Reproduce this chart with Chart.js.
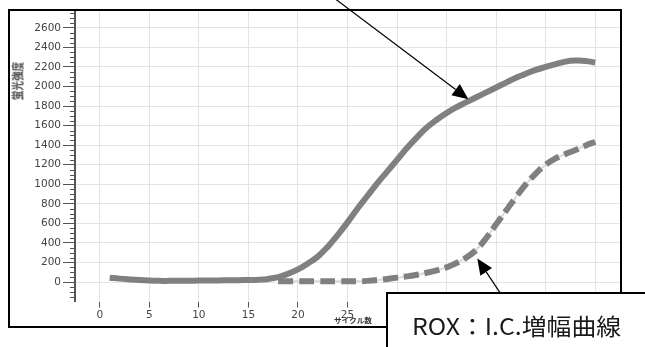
<!DOCTYPE html>
<html>
<head>
<meta charset="utf-8">
<script src="https://cdn.jsdelivr.net/npm/chart.js@4.4.1/dist/chart.umd.min.js"></script>
<style>
  body { margin: 0; background: #fff; overflow: hidden; }
  #wrap { position: relative; width: 645px; height: 347px; }
  #myChart { position: absolute; left: 0; top: 0; }
  .ytitle {
    position: absolute; left: 17px; top: 81px;
    transform: translate(-50%, -50%) rotate(-90deg) scale(0.8, 1);
    font: bold 12px "Noto Sans CJK JP"; color: #444; white-space: nowrap;
  }
  .xtitle {
    position: absolute; left: 353px; top: 320px;
    transform: translate(-50%, -50%) scale(0.85, 0.8);
    font: bold 9px "Noto Sans CJK JP"; color: #333; white-space: nowrap;
  }
  .note {
    position: absolute; left: 386px; top: 292px; width: 300px; height: 100px;
    border: 2px solid #000; background: #fff; box-sizing: border-box;
  }
  .note span {
    position: absolute; left: 24px; top: 14px;
    font: 23px "Noto Sans CJK JP"; color: #1a1a1a; white-space: nowrap;
    transform-origin: left center; transform: scaleX(1.08);
  }
</style>
</head>
<body>
<div id="wrap">
  <canvas id="myChart" width="645" height="347"></canvas>
  <div class="ytitle">蛍光強度</div>
  <div class="xtitle">サイクル数</div>
  <div class="note"><span>ROX：I.C.増幅曲線</span></div>
</div>
<script>
// サイクル数
const cycles = [1, 2, 3, 4, 5, 6, 7, 8, 9, 10, 11, 12, 13, 14, 15, 16, 17, 18, 19, 20,
  21, 22, 23, 24, 25, 26, 27, 28, 29, 30, 31, 32, 33, 34, 35, 36, 37, 38, 39, 40,
  41, 42, 43, 44, 45, 46, 47, 48, 49, 50];
// target curve (solid)
const targetValues = [45, 35, 27, 20, 15, 12, 12, 13, 14, 15, 16, 17, 18, 19, 21, 24, 32, 50, 85, 130,
  190, 260, 360, 480, 610, 750, 880, 1010, 1130, 1250, 1370, 1480, 1580, 1660, 1730, 1790, 1840, 1890, 1940, 1990,
  2040, 2090, 2130, 2170, 2200, 2230, 2255, 2265, 2262, 2245];
// ROX I.C. curve (dashed)
const roxCycles = [18, 19, 20, 21, 22, 23, 24, 25, 26, 27, 28, 29, 30, 31, 32, 33, 34,
  35, 36, 37, 38, 39, 40, 41, 42, 43, 44, 45, 46, 47, 48, 49, 50];
const roxValues = [8, 8, 8, 8, 8, 8, 8, 8, 8, 12, 20, 32, 45, 58, 75, 95, 120,
  150, 195, 250, 330, 450, 590, 730, 870, 1000, 1110, 1200, 1265, 1310, 1350, 1395, 1435];
const yTicks = [0, 200, 400, 600, 800, 1000, 1200, 1400, 1600, 1800, 2000, 2200, 2400, 2600, 2800];
const xTicks = [0, 5, 10, 15, 20, 25, 30, 35, 40, 45, 50];

const toPoints = (xs, ys) => xs.map((x, i) => ({ x, y: ys[i] }));

const arrowTo = (ctx, x1, y1, x2, y2) => {
    const ang = Math.atan2(y2 - y1, x2 - x1);
    const len = 16, half = 7;
    const bx = x2 - len * Math.cos(ang), by = y2 - len * Math.sin(ang);
    ctx.beginPath();
    ctx.moveTo(x1, y1);
    ctx.lineTo(bx, by);
    ctx.stroke();
    ctx.beginPath();
    ctx.moveTo(x2, y2);
    ctx.lineTo(bx + half * Math.sin(ang), by - half * Math.cos(ang));
    ctx.lineTo(bx - half * Math.sin(ang), by + half * Math.cos(ang));
    ctx.closePath();
    ctx.fill();
};

const decorations = {
    id: 'decorations',
    afterDraw(chart) {
        const { ctx, scales: { x, y } } = chart;
        ctx.save();
        // minor ticks on the y axis
        ctx.strokeStyle = '#555';
        ctx.lineWidth = 1;
        for (let v = -150; v < 2800; v += 50) {
            if (v % 200 === 0) continue;
            const py = Math.round(y.getPixelForValue(v)) + 0.5;
            ctx.beginPath();
            ctx.moveTo(x.left - 5, py);
            ctx.lineTo(x.left, py);
            ctx.stroke();
        }
        // crop at the top frame
        ctx.fillStyle = '#fff';
        ctx.fillRect(0, 0, 645, 9);
        ctx.strokeStyle = '#000';
        ctx.lineWidth = 2;
        ctx.strokeRect(9, 10, 612, 317);
        // arrows
        ctx.lineWidth = 1.2;
        ctx.fillStyle = '#000';
        const t1x = x.getPixelForValue(37.2), t1y = y.getPixelForValue(1870);
        arrowTo(ctx, t1x - 138, t1y - 104, t1x, t1y);
        const t2x = x.getPixelForValue(38.1), t2y = y.getPixelForValue(240);
        arrowTo(ctx, t2x + 24, t2y + 36, t2x, t2y);
        ctx.restore();
    }
};

const tickFont = { family: 'DejaVu Sans', size: 10.5 };
const plain = (v) => String(v);

new Chart(document.getElementById('myChart'), {
    type: 'line',
    data: {
        datasets: [
            {
                data: toPoints(cycles, targetValues),
                borderColor: '#808080',
                borderWidth: 6,
                tension: 0.4,
                pointRadius: 0,
                order: 1,
            },
            {
                data: toPoints(roxCycles, roxValues),
                borderColor: '#808080',
                borderWidth: 6,
                borderDash: [15, 6],
                tension: 0.4,
                pointRadius: 0,
                order: 2,
            },
            {
                data: toPoints(roxCycles, roxValues),
                borderColor: '#d9d9d9',
                borderWidth: 2,
                tension: 0.4,
                pointRadius: 0,
                order: 3,
            }
        ]
    },
    options: {
        responsive: false,
        animation: false,
        layout: { padding: { left: 8, top: 7.4, right: 25, bottom: 23.4 } },
        plugins: { legend: { display: false }, tooltip: { enabled: false } },
        scales: {
            x: {
                type: 'linear',
                min: -2.5,
                max: 52.5,
                afterBuildTicks: (s) => { s.ticks = xTicks.map((v) => ({ value: v })); },
                afterFit: (s) => { s.height = 22; },
                ticks: { font: tickFont, color: '#444', padding: 1, maxRotation: 0, callback: plain },
                grid: { color: '#e4e4e4', tickColor: '#555', tickLength: 6 },
                border: { display: false },
            },
            y: {
                min: -200,
                max: 2800,
                afterBuildTicks: (s) => { s.ticks = yTicks.map((v) => ({ value: v })); },
                afterFit: (s) => { s.width = 67; },
                ticks: { font: tickFont, color: '#444', padding: 2, callback: plain },
                grid: { color: '#e4e4e4', tickColor: '#555', tickLength: 12 },
                border: { color: '#555', width: 2 },
            }
        }
    },
    plugins: [decorations]
});
</script>
</body>
</html>
